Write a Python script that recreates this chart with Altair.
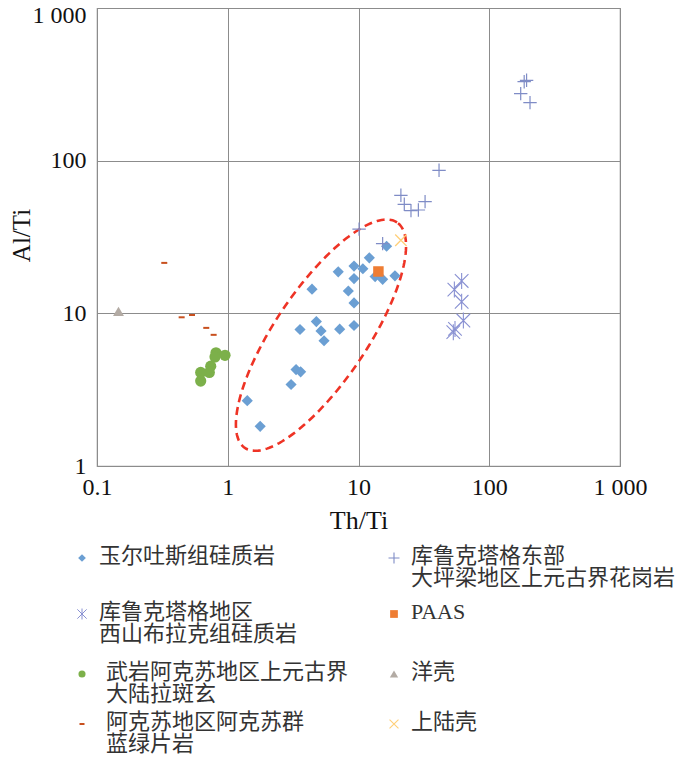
import altair as alt
import pandas as pd
import numpy as np

# ---------------- data ----------------
yuer_x = [1.41, 1.77, 3.05, 3.33, 3.61, 3.57, 4.41, 4.76, 5.17, 5.45, 7.0, 7.18,
          8.36, 9.24, 9.24, 9.24, 9.24, 10.8, 12.1, 13.4, 15.3, 16.4, 19.0]
yuer_y = [2.68, 1.82, 3.42, 4.28, 4.14, 7.84, 14.4, 8.83, 7.67, 6.61, 18.7, 7.87,
          14.0, 20.4, 16.9, 11.7, 8.32, 19.6, 23.1, 17.4, 16.7, 27.5, 17.6]

granite_x = [10.1, 15.3, 21.1, 22.4, 25.2, 28.7, 32.3, 41.3, 174, 185, 193, 205]
granite_y = [35.6, 28.6, 59.3, 51.8, 47.1, 47.5, 53.9, 86.5, 275, 329, 336, 240]

xishan_x = [61.5, 54.1, 61.5, 63.4, 54.7, 53.1]
xishan_y = [16.3, 14.3, 11.9, 8.97, 7.91, 7.53]

basalt_x = [0.813, 0.953, 0.799, 0.741, 0.723, 0.621, 0.621]
basalt_y = [5.52, 5.31, 5.18, 4.51, 4.10, 4.10, 3.60]

schist_x = [0.327, 0.444, 0.533, 0.685, 0.780]
schist_y = [21.4, 9.42, 9.75, 8.03, 7.23]

paas_x, paas_y = [14.2], [18.8]
ocean_x, ocean_y = [0.146], [10.3]
ucc_x, ucc_y = [21.1], [30.1]

x_ticks = [0.1, 1, 10, 100, 1000]
y_ticks = [1, 10, 100, 1000]

legend_labels = [
    ["玉尔吐斯组硅质岩"],
    ["库鲁克塔格东部", "大坪梁地区上元古界花岗岩"],
    ["库鲁克塔格地区", "西山布拉克组硅质岩"],
    ["PAAS"],
    ["武岩阿克苏地区上元古界", "大陆拉斑玄"],
    ["洋壳"],
    ["阿克苏地区阿克苏群", "蓝绿片岩"],
    ["上陆壳"],
]

# ellipse annotation (log space): centre, semi-axes (px), rotation
ell_cx, ell_cy = 0.713, 0.857
ell_a, ell_b, ell_ang = 136.0, 46.0, 56.0

W, H = 523, 458
PX_X = W / 4.0
PX_Y = H / 3.0

PLUS = "M-1,0H1M0,-1V1"
STAR = "M-0.85,-0.85L0.85,0.85M-0.85,0.85L0.85,-0.85M0,-1L0,1"
DASH = "M-1,0H1"
XMARK = "M-1,-1L1,1M-1,1L1,-1"

C_DIAMOND = "#6b9fd3"
C_PLUS = "#7f8cc6"
C_STAR = "#8890d2"
C_GREEN = "#7cb04a"
C_DASH = "#c8501e"
C_TRI = "#b3aba4"
C_SQ = "#ee7d33"
C_X = "#ffcf78"

SERIF = "Liberation Serif"

xs = alt.Scale(type="log", domain=[0.1, 1000], nice=False)
ys = alt.Scale(type="log", domain=[1, 1000], nice=False)

x_axis = alt.Axis(values=x_ticks, title="Th/Ti", grid=True, ticks=False, domain=False,
                  labelExpr="datum.value < 0.5 ? '0.1' : (datum.value >= 1000 ? '1 000' : format(datum.value, 'd'))",
                  labelFont=SERIF, labelFontSize=24, labelColor="#111",
                  labelPadding=9, labelFlush=False, labelOverlap=False,
                  titleFont=SERIF, titleFontSize=26, titleFontWeight="normal",
                  titleColor="#111", titleX=W / 2, titleY=54, titleBaseline="middle")
y_axis = alt.Axis(values=y_ticks, title="Al/Ti", grid=True, ticks=False, domain=False,
                  labelExpr="datum.value >= 1000 ? '1 000' : format(datum.value, 'd')",
                  labelFont=SERIF, labelFontSize=24, labelColor="#111",
                  labelPadding=11, labelFlush=False, labelOverlap=False, labelBaseline="middle",
                  labelOffset={"condition": {"test": "datum.value >= 1000", "value": 7}, "value": 0},
                  titleFont=SERIF, titleFontSize=25, titleFontWeight="normal",
                  titleColor="#111", titleX=-76, titleY=H / 2 - 2, titleAngle=270,
                  titleAlign="center", titleBaseline="middle")

X_ENC = alt.X("x:Q", scale=xs, axis=x_axis)
Y_ENC = alt.Y("y:Q", scale=ys, axis=y_axis)


def pts(xv, yv):
    return pd.DataFrame({"x": xv, "y": yv})


def filled(xv, yv, shape, color, size):
    return alt.Chart(pts(xv, yv)).mark_point(
        shape=shape, filled=True, color=color, size=size, opacity=1, strokeWidth=0
    ).encode(x=X_ENC, y=Y_ENC)


def stroked(xv, yv, shape, color, size, sw=1.2):
    return alt.Chart(pts(xv, yv)).mark_point(
        shape=shape, filled=False, color=color, size=size, opacity=1, strokeWidth=sw
    ).encode(x=X_ENC, y=Y_ENC)


# ellipse outline
t = np.linspace(0, 2 * np.pi, 181)
th = np.radians(ell_ang)
dx = ell_a * np.cos(th) * np.cos(t) - ell_b * np.sin(th) * np.sin(t)
dy = ell_a * np.sin(th) * np.cos(t) + ell_b * np.cos(th) * np.sin(t)
ell = pd.DataFrame({
    "x": 10 ** (ell_cx + dx / PX_X),
    "y": 10 ** (ell_cy + dy / PX_Y),
    "o": np.arange(len(t)),
})
ellipse = alt.Chart(ell).mark_line(
    color="#ee3325", strokeWidth=2.6, strokeDash=[8, 5], interpolate="linear"
).encode(x=X_ENC, y=Y_ENC, order="o:Q")

layers = [
    ellipse,
    filled(yuer_x, yuer_y, "diamond", C_DIAMOND, 125),
    filled(basalt_x, basalt_y, "circle", C_GREEN, 125),
    stroked(schist_x, schist_y, DASH, C_DASH, 36, 2.0),
    filled(ocean_x, ocean_y, "triangle-up", C_TRI, 120),
    stroked(xishan_x, xishan_y, STAR, C_STAR, 256, 1.1),
    stroked(granite_x, granite_y, PLUS, C_PLUS, 180, 1.2),
    filled(paas_x, paas_y, "square", C_SQ, 110),
    stroked(ucc_x, ucc_y, XMARK, C_X, 130, 1.3),
]

# ---------------- legend (drawn below the plot) ----------------
one = pd.DataFrame({"a": [0]})
col_sym_x = [-15, 297]
col_txt_x = [2, 314]
row_y = [548, 604, 664, 714]
line_gap = 22
leg_sym = [
    ("diamond", C_DIAMOND, 60, True, 1),
    (PLUS, C_PLUS, 120, False, 1.1),
    (STAR, C_STAR, 120, False, 1.0),
    ("square", C_SQ, 60, True, 1),
    ("circle", C_GREEN, 50, True, 1),
    ("triangle-up", C_TRI, 70, True, 1),
    (DASH, C_DASH, 25, False, 2.0),
    (XMARK, C_X, 80, False, 1.1),
]
for i, lines in enumerate(legend_labels):
    r, c = divmod(i, 2)
    shape, color, size, fill, sw = leg_sym[i]
    sy = row_y[r] + 2
    layers.append(alt.Chart(one).mark_point(
        shape=shape, filled=fill, color=color, size=size, opacity=1,
        strokeWidth=(0 if fill else sw)
    ).encode(x=alt.value(col_sym_x[c]), y=alt.value(sy)))
    tx = col_txt_x[c] + (7 if (c == 0 and r >= 2) else 0)
    for j, line in enumerate(lines):
        layers.append(alt.Chart(one).mark_text(
            text=line, align="left", baseline="middle",
            font=(SERIF if line == "PAAS" else "Noto Sans CJK SC"),
            fontSize=22, color="#333333"
        ).encode(x=alt.value(tx), y=alt.value(row_y[r] + j * line_gap)))

chart = alt.layer(*layers).properties(
    width=W, height=H,
    autosize=alt.AutoSizeParams(type="none"),
    padding={"left": 89, "top": 0, "right": 72, "bottom": 291},
).configure_view(stroke="#9a9a9a", strokeWidth=1.2).configure_axis(
    gridColor="#8c8c8c", gridWidth=1, gridOpacity=1, labelFont=SERIF, titleFont=SERIF
)

chart.save("out.html", embed_options={"renderer": "svg", "actions": False})
